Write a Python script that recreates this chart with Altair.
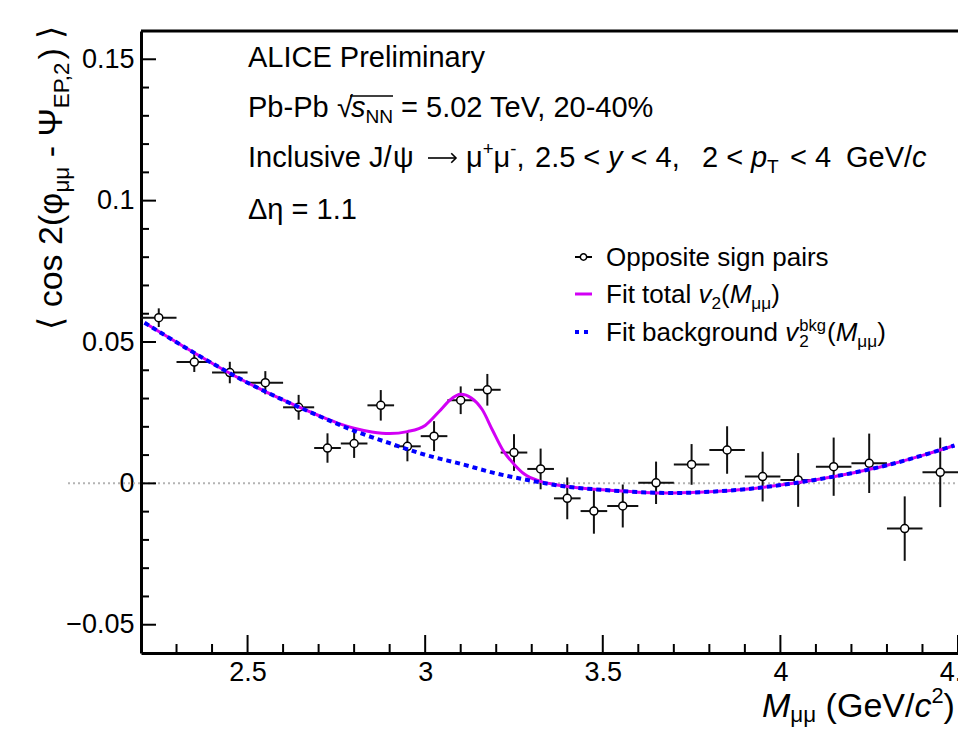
import altair as alt
import pandas as pd

# ---------------- data ----------------
bin_lo = [2.2, 2.3, 2.4, 2.5, 2.6, 2.6875, 2.7625, 2.8375, 2.9125, 2.9875, 3.0625, 3.1375, 3.2125,
          3.2875, 3.3625, 3.4375, 3.5125, 3.6, 3.7, 3.8, 3.9, 4.0, 4.1, 4.2, 4.3, 4.4]
bin_hi = [2.3, 2.4, 2.5, 2.6, 2.6875, 2.7625, 2.8375, 2.9125, 2.9875, 3.0625, 3.1375, 3.2125, 3.2875,
          3.3625, 3.4375, 3.5125, 3.6, 3.7, 3.8, 3.9, 4.0, 4.1, 4.2, 4.3, 4.4, 4.5]
v2_obs = [0.0586, 0.0429, 0.0392, 0.0356, 0.0269, 0.0125, 0.0141, 0.0276, 0.0131, 0.0167, 0.0294,
          0.0331, 0.0109, 0.0051, -0.0053, -0.0098, -0.0080, 0.0002, 0.0067, 0.0118, 0.0024, 0.0012,
          0.0059, 0.0071, -0.0160, 0.0039]
v2_err = [0.0033, 0.0035, 0.0038, 0.0041, 0.0044, 0.0052, 0.0051, 0.0054, 0.0053, 0.0053, 0.0049,
          0.0056, 0.0065, 0.0072, 0.0074, 0.0080, 0.0076, 0.0075, 0.0072, 0.0084, 0.0088, 0.0095,
          0.0103, 0.0105, 0.0114, 0.0123]

fit_tot_x = [2.21, 2.30, 2.40, 2.50, 2.60, 2.70, 2.75, 2.80, 2.85, 2.90, 2.95, 3.00, 3.04, 3.07,
             3.10, 3.13, 3.16, 3.19, 3.22, 3.25, 3.28, 3.32, 3.36, 3.40, 3.50, 3.60, 3.70, 3.80,
             3.90, 4.00, 4.10, 4.20, 4.30, 4.40, 4.49]
fit_tot_y = [0.0568, 0.0499, 0.0425, 0.0356, 0.0295, 0.0240, 0.0215, 0.0195, 0.0182, 0.0176,
             0.0183, 0.0205, 0.0255, 0.0295, 0.0315, 0.0302, 0.0262, 0.0187, 0.0115, 0.0068,
             0.0032, 0.0009, -0.0003, -0.0011, -0.0023, -0.0031, -0.0034, -0.0030, -0.0021,
             -0.0006, 0.0013, 0.0036, 0.0064, 0.0099, 0.0134]

fit_bkg_x = [2.21, 2.30, 2.40, 2.50, 2.60, 2.70, 2.80, 2.90, 3.00, 3.10, 3.20, 3.30, 3.40, 3.50,
             3.60, 3.70, 3.80, 3.90, 4.00, 4.10, 4.20, 4.30, 4.40, 4.49]
fit_bkg_y = [0.0568, 0.0499, 0.0425, 0.0356, 0.0295, 0.0239, 0.0186, 0.0142, 0.0101, 0.0069,
             0.0035, 0.0009, -0.0012, -0.0023, -0.0031, -0.0034, -0.0030, -0.0021, -0.0006,
             0.0013, 0.0036, 0.0064, 0.0099, 0.0134]

x_major = [2.5, 3.0, 3.5, 4.0, 4.5]
x_minor = [2.3, 2.4, 2.6, 2.7, 2.8, 2.9, 3.1, 3.2, 3.3, 3.4, 3.6, 3.7, 3.8, 3.9,
           4.1, 4.2, 4.3, 4.4]
y_major = [-0.05, 0.0, 0.05, 0.1, 0.15]
y_minor = [-0.04, -0.03, -0.02, -0.01, 0.01, 0.02, 0.03, 0.04, 0.06, 0.07, 0.08, 0.09,
           0.11, 0.12, 0.13, 0.14]

# ---------------- layout ----------------
FONT = "Liberation Sans"
W, H = 817, 622
PAD = {"left": 133, "top": 23, "right": 0, "bottom": 75}
OX, OY = 8 + PAD["left"], 8 + PAD["top"]   # page position of the plot origin

xs = alt.Scale(domain=[2.2, 4.5], nice=False, zero=False)
ys = alt.Scale(domain=[-0.06, 0.16], nice=False, zero=False)

xaxis = alt.Axis(values=x_major, format="~g", title=None, ticks=False, grid=False,
                 domain=True, domainColor="black", domainWidth=3, labelFont=FONT,
                 labelFontSize=27, labelColor="black", labelPadding=6, labelFlush=False,
                 labelOverlap=False)
yaxis = alt.Axis(values=y_major, format="~g", title=None, ticks=False, grid=False,
                 domain=True, domainColor="black", domainWidth=3, labelFont=FONT,
                 labelFontSize=27, labelColor="black", labelPadding=7, labelOverlap=False)


def X(f):
    return alt.X(f, scale=xs, axis=xaxis)


def Y(f):
    return alt.Y(f, scale=ys, axis=yaxis)


AW = {' ': 278, '!': 278, '%': 889, '(': 333, ')': 333, '+': 584, ',': 278, '-': 333, '.': 278,
      '/': 278, '<': 584, '=': 584, 'A': 667, 'B': 667, 'C': 722, 'D': 722, 'E': 667, 'F': 611,
      'G': 778, 'I': 278, 'J': 500, 'L': 556, 'M': 833, 'N': 722, 'O': 778, 'P': 667, 'T': 611,
      'V': 667, 'a': 556, 'b': 556, 'c': 500, 'd': 556, 'e': 556, 'f': 278, 'g': 556, 'i': 222,
      'k': 500, 'l': 222, 'm': 833, 'n': 556, 'o': 556, 'p': 556, 'r': 333, 's': 500, 't': 278,
      'u': 556, 'v': 500, 'y': 500, 'μ': 577, 'ψ': 712, 'φ': 650, 'Ψ': 835, 'Δ': 668, 'η': 556,
      '√': 549, '→': 1000, '⟨': 390, '⟩': 390}


def tw(s, size):
    return sum(AW.get(c, 556) for c in s) / 1000.0 * size


def T(s, px, py, size, italic=False, angle=0, color="black"):
    return alt.Chart(alt.Data(values=[{"s": s}])).mark_text(
        align="left", baseline="alphabetic", font=FONT, fontSize=size,
        fontStyle="italic" if italic else "normal", angle=angle, color=color
    ).encode(x=alt.value(px - OX), y=alt.value(py - OY), text="s:N")


def lay(pieces, start, base, size, rot=False, subk=0.22):
    out, pos = [], start
    sgn = -1 if rot else 1
    for p in pieces:
        text, kind = p[0], p[1]
        if len(p) > 2:
            pos = p[2]
        fs, shift = size, 0.0
        if kind in ("sub", "isub"):
            fs, shift = round(size * 0.66, 1), subk * size
        elif kind == "sup":
            fs, shift = round(size * 0.64, 1), -0.40 * size
        italic = kind in ("i", "isub")
        lead = len(text) - len(text.lstrip(" "))
        core = text.strip(" ")
        cpos = pos + sgn * tw(" " * lead, fs)
        if core:
            if rot:
                out.append(T(core, base + shift, cpos, fs, italic, angle=270))
            else:
                out.append(T(core, cpos, base + shift, fs, italic))
        pos = pos + sgn * tw(text, fs)
    return out


one = alt.Data(values=[{"a": 1}])

# ---------------- frame, ticks, zero line ----------------
zero_line = alt.Chart(pd.DataFrame({"z": [0.0]})).mark_rule(
    color="#b4b4b4", strokeWidth=2, strokeDash=[2, 3]
).encode(y=Y("z:Q"), x=alt.value(-73), x2=alt.value(W))

top_frame = alt.Chart(one).mark_rule(color="black", strokeWidth=3).encode(
    x=alt.value(0), x2=alt.value(W), y=alt.value(0))

xt_maj = alt.Chart(pd.DataFrame({"t": x_major})).mark_rule(color="black", strokeWidth=2).encode(
    x=X("t:Q"), y=alt.value(H), y2=alt.value(H - 18))
xt_min = alt.Chart(pd.DataFrame({"t": x_minor})).mark_rule(color="black", strokeWidth=2).encode(
    x=X("t:Q"), y=alt.value(H), y2=alt.value(H - 9))
yt_maj = alt.Chart(pd.DataFrame({"t": y_major})).mark_rule(color="black", strokeWidth=2).encode(
    y=Y("t:Q"), x=alt.value(0), x2=alt.value(15))
yt_min = alt.Chart(pd.DataFrame({"t": y_minor})).mark_rule(color="black", strokeWidth=2).encode(
    y=Y("t:Q"), x=alt.value(0), x2=alt.value(8))

# ---------------- data points ----------------
df = pd.DataFrame({"lo": bin_lo, "hi": bin_hi, "v": v2_obs, "e": v2_err})
pts = alt.Chart(df).transform_calculate(
    xc="(datum.lo + datum.hi) / 2", ylo="datum.v - datum.e", yhi="datum.v + datum.e")

xerr = pts.mark_rule(color="#111111", strokeWidth=2).encode(x=X("lo:Q"), x2="hi:Q", y=Y("v:Q"))
yerr = pts.mark_rule(color="#111111", strokeWidth=2).encode(x=X("xc:Q"), y=Y("ylo:Q"), y2="yhi:Q")
marker = pts.mark_point(shape="circle", filled=True, fill="white", stroke="black",
                        strokeWidth=1.5, size=64, opacity=1).encode(x=X("xc:Q"), y=Y("v:Q"))

tot = alt.Chart(pd.DataFrame({"m": fit_tot_x, "v": fit_tot_y})).mark_line(
    color="#d200f5", strokeWidth=3, interpolate="monotone").encode(x=X("m:Q"), y=Y("v:Q"))
bkg = alt.Chart(pd.DataFrame({"m": fit_bkg_x, "v": fit_bkg_y})).mark_line(
    color="#0000ff", strokeWidth=4, strokeDash=[5, 4], interpolate="monotone").encode(
    x=X("m:Q"), y=Y("v:Q"))

# ---------------- legend ----------------
leg = [
    alt.Chart(one).mark_rule(color="black", strokeWidth=2).encode(
        x=alt.value(575 - OX), x2=alt.value(592 - OX), y=alt.value(257 - OY)),
    alt.Chart(one).mark_point(shape="circle", filled=True, fill="white", stroke="black",
                              strokeWidth=1.5, size=40, opacity=1).encode(
        x=alt.value(583.5 - OX), y=alt.value(257 - OY)),
    alt.Chart(one).mark_rule(color="#d200f5", strokeWidth=3).encode(
        x=alt.value(575 - OX), x2=alt.value(592 - OX), y=alt.value(294 - OY)),
    alt.Chart(one).mark_rule(color="#0000ff", strokeWidth=4, strokeDash=[4, 5]).encode(
        x=alt.value(575 - OX), x2=alt.value(592 - OX), y=alt.value(332 - OY)),
    T("Opposite sign pairs", 606, 266, 26),
]
leg += lay([("Fit total ", "n"), ("v", "i"), ("2", "sub"), ("(", "n"), ("M", "i"),
            ("μμ", "sub"), (")", "n")], 606, 303, 26)
leg += lay([("Fit background ", "n"), ("v", "i")], 606, 341, 26)
vx = 606 + tw("Fit background v", 26)
leg += lay([("bkg", "sup")], vx + 1, 341, 26)
leg += lay([("2", "sub")], vx + 1, 341, 26)
leg += lay([("(", "n"), ("M", "i"), ("μμ", "sub"), (")", "n")],
           vx + 1 + tw("bkg", 26 * 0.64) + 1, 341, 26)

# ---------------- annotation text ----------------
ann = [T("ALICE Preliminary", 248, 67, 29)]
ann += lay([("Pb-Pb", "n"), ("√", "n", 337), ("s", "i", 351), ("NN", "sub"),
            (" = 5.02 TeV, 20-40%", "n", 393)], 248, 117, 29)
ann.append(alt.Chart(one).mark_rule(color="black", strokeWidth=1.5).encode(
    x=alt.value(350 - OX), x2=alt.value(393 - OX), y=alt.value(96 - OY)))
ann += lay([("Inclusive J/", "n"), ("ψ", "n", 393)], 248, 167, 29)
# arrow "→" drawn as a shaft and an open head
ann.append(alt.Chart(one).mark_rule(color="black", strokeWidth=1.6).encode(
    x=alt.value(428 - OX), x2=alt.value(456 - OX), y=alt.value(158 - OY)))
ann.append(alt.Chart(one).mark_point(shape="M-1,-1L0,0L-1,1", filled=False, color="black",
                                     strokeWidth=1.6, size=90, opacity=1).encode(
    x=alt.value(456 - OX), y=alt.value(158 - OY)))
ann += lay([("μ", "n", 466), ("+", "sup"), ("μ", "n"), ("-", "sup"), (",", "n"),
            ("2.5 <", "n", 535), ("y", "i", 608), (" <", "n"), (" 4,", "n"), ("2 <", "n", 702),
            ("p", "i", 751), ("T", "sub"), ("<", "n", 790), ("4", "n", 815), ("GeV/", "n", 846),
            ("c", "i")], 248, 167, 29)
ann.append(T("Δη = 1.1", 248, 219, 29))

# axis titles
ann += lay([("⟨", "n"), (" cos 2(", "n"), ("φ", "n"), ("μμ", "sub"), (" - ", "n"), ("Ψ", "n"),
            ("EP,2", "sub"), (")", "n"), (" ⟩", "n")], 330, 62, 34, rot=True)
ann += lay([("M", "i"), ("μμ", "sub"), (" (GeV/", "n"), ("c", "i"), ("2", "sup"), (")", "n")],
           762, 717, 34, subk=0.15)

layers = [zero_line, xerr, yerr, marker, tot, bkg, xt_maj, xt_min, yt_maj, yt_min, top_frame]
layers += leg + ann

chart = alt.layer(*layers).properties(
    width=W, height=H, padding=PAD, autosize=alt.AutoSizeParams(type="none"),
    background="white"
).configure_view(stroke=None)

chart.save("out.html", embed_options={"renderer": "svg", "actions": False})
